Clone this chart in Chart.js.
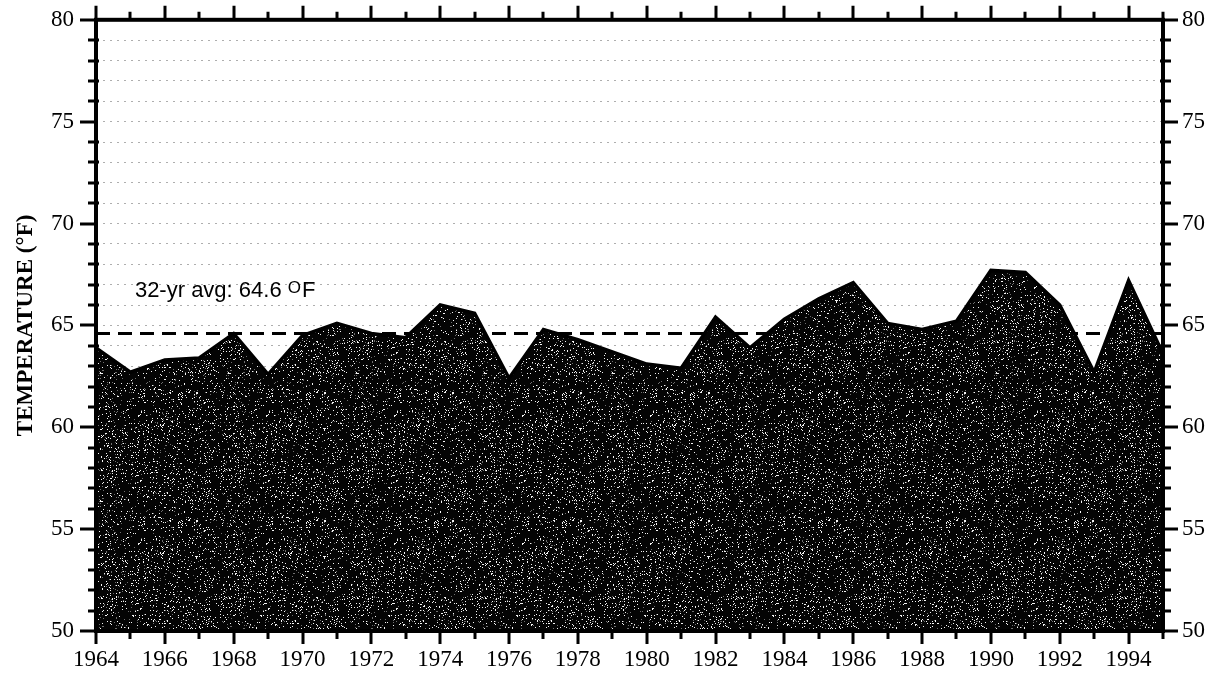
<!DOCTYPE html>
<html>
<head>
<meta charset="utf-8">
<script src="https://cdn.jsdelivr.net/npm/chart.js@4.4.1/dist/chart.umd.min.js"></script>
<style>
  html, body { margin: 0; padding: 0; background: #fff; }
  #wrap { width: 1215px; height: 677px; position: relative; }
</style>
</head>
<body>
<div id="wrap"><canvas id="c" width="1215" height="677"></canvas></div>
<script>
// Annual mean temperature, 1964-1995
const years = [1964, 1965, 1966, 1967, 1968, 1969, 1970, 1971, 1972, 1973, 1974, 1975, 1976, 1977, 1978, 1979,
               1980, 1981, 1982, 1983, 1984, 1985, 1986, 1987, 1988, 1989, 1990, 1991, 1992, 1993, 1994, 1995];
const temps = [63.9, 62.7, 63.3, 63.4, 64.6, 62.6, 64.5, 65.1, 64.6, 64.4, 66.0, 65.6, 62.4, 64.8, 64.3, 63.7,
               63.1, 62.9, 65.4, 63.9, 65.3, 66.3, 67.1, 65.1, 64.8, 65.2, 67.7, 67.6, 66.0, 62.7, 67.2, 63.6];
const avgTemp = 64.6;
const avgLabel = '32-yr avg: 64.6 ';
const yTicks = [50, 55, 60, 65, 70, 75, 80];
const xTickYears = [1964, 1966, 1968, 1970, 1972, 1974, 1976, 1978, 1980, 1982, 1984, 1986, 1988, 1990, 1992, 1994];

// Stippled dark fill: black ground with sparse white specks (seeded generator)
function makeStipple() {
  const n = 128;
  let s = 0x2f6b1d3;
  const rnd = () => {
    s = (s + 0x6D2B79F5) | 0;
    let t = Math.imul(s ^ (s >>> 15), 1 | s);
    t = (t + Math.imul(t ^ (t >>> 7), 61 | t)) ^ t;
    return ((t ^ (t >>> 14)) >>> 0) / 4294967296;
  };
  const cv = document.createElement('canvas');
  cv.width = n; cv.height = n;
  const g = cv.getContext('2d');
  const img = g.createImageData(n, n);
  for (let i = 0; i < n * n; i++) {
    const r = rnd();
    const v = r < 0.06 ? 245 : (r < 0.09 ? 110 : 4);
    img.data[i * 4] = v; img.data[i * 4 + 1] = v; img.data[i * 4 + 2] = v; img.data[i * 4 + 3] = 255;
  }
  g.putImageData(img, 0, 0);
  return g.createPattern(cv, 'repeat');
}

const serif = '"Liberation Serif", "Times New Roman", serif';
const sans = '"Liberation Sans", Arial, sans-serif';

const framePlugin = {
  id: 'frame',
  afterDatasetsDraw(chart) {
    const ctx = chart.ctx;
    const xs = chart.scales.x, ys = chart.scales.y;
    // average label
    const tx = xs.getPixelForValue(1965.13);
    const ty = ys.getPixelForValue(66.37);
    ctx.save();
    ctx.fillStyle = '#000';
    ctx.textBaseline = 'alphabetic';
    ctx.font = '22px ' + sans;
    ctx.fillText(avgLabel, tx, ty);
    let w = ctx.measureText(avgLabel).width;
    ctx.font = '17px ' + sans;
    ctx.fillText('O', tx + w, ty - 4);
    w += ctx.measureText('O').width + 1;
    ctx.font = '22px ' + sans;
    ctx.fillText('F', tx + w, ty);
    ctx.restore();
  },
  afterDraw(chart) {
    const ctx = chart.ctx;
    const { left, right, top, bottom } = chart.chartArea;
    const xs = chart.scales.x, ys = chart.scales.y;
    ctx.save();
    ctx.strokeStyle = '#000';
    ctx.lineCap = 'butt';
    ctx.lineWidth = 3;
    ctx.beginPath();
    for (let v = 50; v <= 80; v++) {
      const py = Math.round(ys.getPixelForValue(v));
      const major = v % 5 === 0;
      ctx.moveTo(left - (major ? 16 : 8), py); ctx.lineTo(left + (major ? 0 : 3), py);
      ctx.moveTo(right - (major ? 0 : 3), py); ctx.lineTo(right + (major ? 15 : 8), py);
    }
    for (let yr = 1964; yr <= 1995; yr++) {
      const px = Math.round(xs.getPixelForValue(yr));
      const major = yr % 2 === 0;
      ctx.moveTo(px, bottom); ctx.lineTo(px, bottom + (major ? 13 : 8));
      ctx.moveTo(px, top); ctx.lineTo(px, top - (major ? 14 : 8));
    }
    ctx.stroke();
    ctx.lineWidth = 4;
    ctx.strokeRect(left, top, right - left, bottom - top);
    ctx.restore();
  }
};

const tickLabel = (v) => (yTicks.includes(v) ? String(v) : '');

new Chart(document.getElementById('c'), {
  type: 'line',
  data: {
    datasets: [
      {
        data: years.map((y, i) => ({ x: y, y: temps[i] })),
        borderColor: '#000',
        borderWidth: 3.5,
        backgroundColor: makeStipple(),
        fill: 'start',
        pointRadius: 0,
        tension: 0,
        order: 1
      },
      {
        data: [{ x: years[0], y: avgTemp }, { x: years[years.length - 1], y: avgTemp }],
        borderColor: '#000',
        borderWidth: 3,
        borderDash: [14, 8],
        fill: false,
        pointRadius: 0,
        order: 2
      }
    ]
  },
  options: {
    responsive: false,
    animation: false,
    events: [],
    layout: { padding: { top: 19, left: 0, right: 0, bottom: 0 } },
    plugins: { legend: { display: false }, tooltip: { enabled: false } },
    scales: {
      x: {
        type: 'linear',
        min: 1964,
        max: 1995,
        afterBuildTicks(scale) { scale.ticks = xTickYears.map(v => ({ value: v })); },
        ticks: {
          autoSkip: false, maxRotation: 0, minRotation: 0,
          color: '#000', font: { family: serif, size: 23 }, padding: 2,
          callback: (v) => String(v)
        },
        grid: { drawOnChartArea: false, drawTicks: true, tickLength: 13, tickColor: 'transparent' },
        border: { display: false },
        afterFit(scale) { scale.height = 46; }
      },
      y: {
        position: 'left',
        min: 50,
        max: 80,
        ticks: {
          stepSize: 1, autoSkip: false,
          color: '#000', font: { family: serif, size: 23 }, padding: 6,
          callback: tickLabel
        },
        grid: {
          drawOnChartArea: true, drawTicks: true, tickLength: 16, tickColor: 'transparent',
          color: (c) => (c.tick && (c.tick.value === 50 || c.tick.value === 80) ? 'transparent' : 'rgba(120,120,120,0.6)'),
          lineWidth: 1
        },
        border: { display: false, dash: [2, 5] },
        title: {
          display: true, text: 'TEMPERATURE (°F)', color: '#000',
          font: { family: serif, size: 23, weight: 'bold' }, padding: { top: 12, bottom: 0 }
        },
        afterFit(scale) { scale.width = 96; }
      },
      y2: {
        position: 'right',
        min: 50,
        max: 80,
        ticks: {
          stepSize: 1, autoSkip: false,
          color: '#000', font: { family: serif, size: 23 }, padding: 4,
          callback: tickLabel
        },
        grid: { drawOnChartArea: false, drawTicks: true, tickLength: 15, tickColor: 'transparent' },
        border: { display: false },
        afterFit(scale) { scale.width = 52; }
      }
    }
  },
  plugins: [framePlugin]
});
</script>
</body>
</html>
